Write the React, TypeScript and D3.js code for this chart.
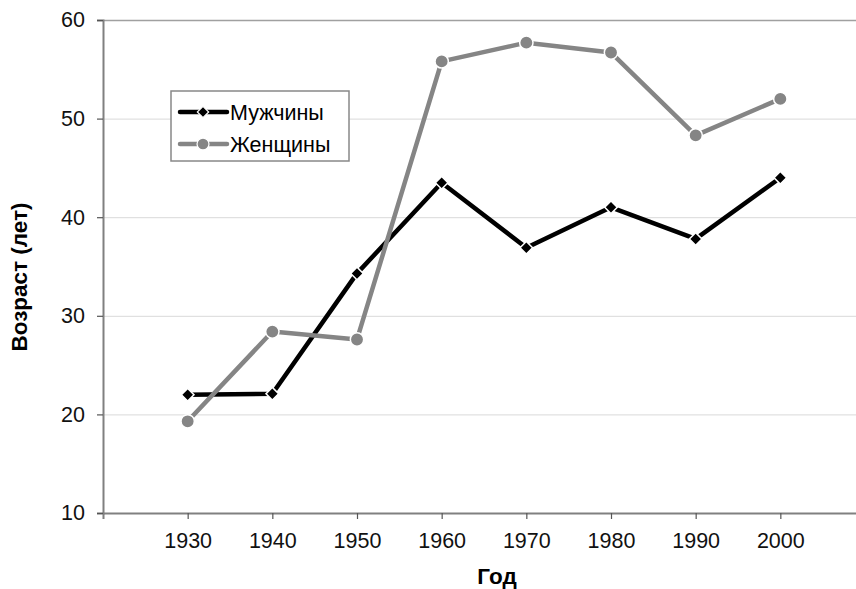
import React, { useRef, useEffect } from 'react';
import * as d3 from 'd3';

const years = [1930, 1940, 1950, 1960, 1970, 1980, 1990, 2000];
const men = [22.0, 22.1, 34.3, 43.5, 36.9, 41.0, 37.8, 44.0];
const women = [19.3, 28.4, 27.6, 55.8, 57.7, 56.7, 48.3, 52.0];
const yTicks = [10, 20, 30, 40, 50, 60];
const seriesNames = ['Мужчины', 'Женщины'];

const width = 856;
const height = 589;
const font = 'Liberation Sans, Arial, sans-serif';

const App = () => {
    const svgRef = useRef(null);

    useEffect(() => {
        const svg = d3.select(svgRef.current);
        svg.selectAll('*').remove();

        const x = d3.scaleLinear().domain([1920, 2010]).range([103, 865]);
        const y = d3.scaleLinear().domain([10, 60]).range([513, 20]);

        // grid
        svg.append('g')
            .selectAll('line')
            .data(yTicks.filter(t => t > 10))
            .join('line')
            .attr('x1', x(1920))
            .attr('x2', x(2010))
            .attr('y1', d => y(d) + 0.5)
            .attr('y2', d => y(d) + 0.5)
            .attr('stroke', d => (d === 60 ? '#a0a0a0' : '#d9d9d9'))
            .attr('stroke-width', d => (d === 60 ? 1.5 : 1));

        // axes
        const xAxis = d3.axisBottom(x).tickValues(years).tickFormat(d3.format('d')).tickSize(6).tickPadding(14);
        const gx = svg.append('g').attr('transform', `translate(0,${y(10)})`).call(xAxis);
        gx.select('.domain').attr('stroke', '#808080').attr('stroke-width', 2);
        gx.selectAll('.tick line').attr('stroke', '#555').attr('stroke-width', 1.2);
        gx.selectAll('text').attr('font-family', font).attr('font-size', 21.5).attr('fill', '#111');

        const yAxis = d3.axisLeft(y).tickValues(yTicks).tickSize(6).tickPadding(12);
        const gy = svg.append('g').attr('transform', `translate(${x(1920)},0)`).call(yAxis);
        gy.select('.domain').attr('stroke', '#808080').attr('stroke-width', 2);
        gy.selectAll('.tick line').attr('stroke', '#555').attr('stroke-width', 1.2);
        gy.selectAll('text').attr('font-family', font).attr('font-size', 21.5).attr('fill', '#111');

        // titles
        svg.append('text')
            .attr('x', 497).attr('y', 584)
            .attr('text-anchor', 'middle')
            .attr('font-family', font).attr('font-weight', 'bold').attr('font-size', 22.5)
            .text('Год');
        svg.append('text')
            .attr('transform', 'translate(27,277) rotate(-90)')
            .attr('text-anchor', 'middle')
            .attr('font-family', font).attr('font-weight', 'bold').attr('font-size', 22.5)
            .text('Возраст (лет)');

        const line = d3.line().x(d => x(d[0])).y(d => y(d[1]));
        const series = [
            { name: seriesNames[0], values: men, color: '#000000', symbol: d3.symbolSquare, size: 80, rot: 45 },
            { name: seriesNames[1], values: women, color: '#858585', symbol: d3.symbolCircle, size: 140, rot: 0 }
        ];

        series.forEach(s => {
            const pts = years.map((yr, i) => [yr, s.values[i]]);
            svg.append('path')
                .attr('d', line(pts))
                .attr('fill', 'none')
                .attr('stroke', s.color)
                .attr('stroke-width', 4.5)
                .attr('stroke-linejoin', 'round');
            svg.append('g')
                .selectAll('path')
                .data(pts)
                .join('path')
                .attr('transform', d => `translate(${x(d[0])},${y(d[1])}) rotate(${s.rot})`)
                .attr('d', d3.symbol(s.symbol, s.size))
                .attr('fill', s.color)
                .attr('stroke', '#fff')
                .attr('stroke-width', 1.5);
        });

        // legend
        const lg = svg.append('g').attr('transform', 'translate(171,91)');
        lg.append('rect')
            .attr('width', 178).attr('height', 70)
            .attr('fill', '#fff').attr('stroke', '#888').attr('stroke-width', 1.5);
        series.forEach((s, i) => {
            const cy = 21 + i * 32;
            lg.append('line')
                .attr('x1', 9).attr('x2', 56).attr('y1', cy).attr('y2', cy)
                .attr('stroke', s.color).attr('stroke-width', 4.5).attr('stroke-linecap', 'round');
            lg.append('path')
                .attr('transform', `translate(32,${cy}) rotate(${s.rot})`)
                .attr('d', d3.symbol(s.symbol, s.size * 0.8))
                .attr('fill', s.color)
                .attr('stroke', '#fff').attr('stroke-width', 1.2);
            lg.append('text')
                .attr('x', 59).attr('y', cy)
                .attr('dy', '0.36em')
                .attr('font-family', font).attr('font-size', 21.5)
                .text(s.name);
        });
    }, []);

    return (
        <svg ref={svgRef} width={width} height={height}
            style={{ position: 'absolute', left: 0, top: 0, background: '#fff' }} />
    );
};

export default App;
